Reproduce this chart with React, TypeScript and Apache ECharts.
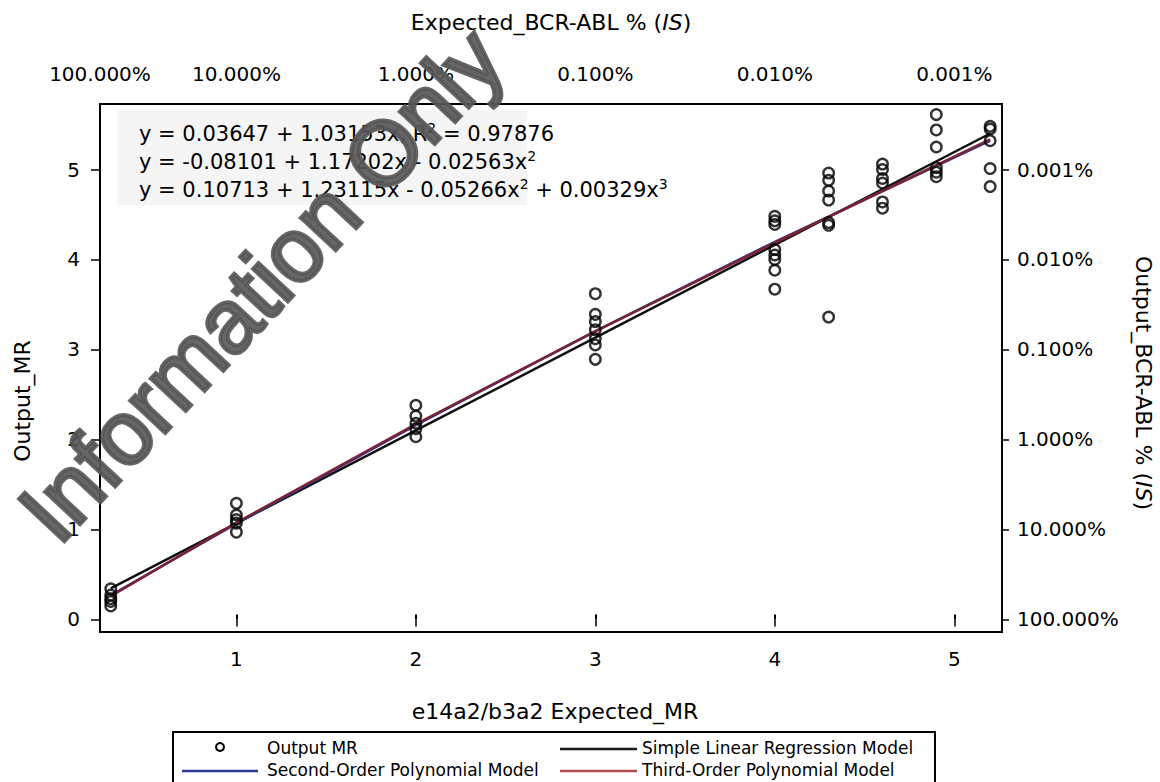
import { useEffect, useRef } from "react";
import * as echarts from "echarts";

const FONT = "DejaVu Sans";

// axis extents (Expected_MR / Output_MR units)
const X_MIN = 0.24;
const X_MAX = 5.266;
const Y_MIN = -0.14;
const Y_MAX = 5.728;

// tick values
const xTickValues = [1, 2, 3, 4, 5];
const topLabelValues = [X_MIN, 1, 2, 3, 4, 5];
const yTickValues = [0, 1, 2, 3, 4, 5];

// observed points: expected MR levels and output MR replicates
const expectedMR = [0.3, 1, 2, 3, 4, 4.3, 4.6, 4.9, 5.2];
const outputMR: number[][] = [
  [0.34, 0.27, 0.23, 0.2, 0.15],
  [1.29, 1.16, 1.11, 1.07, 0.97],
  [2.38, 2.26, 2.18, 2.12, 2.03],
  [3.62, 3.39, 3.31, 3.22, 3.12, 3.05, 2.89],
  [4.48, 4.43, 4.39, 4.11, 4.05, 4.0, 3.88, 3.67],
  [4.96, 4.88, 4.76, 4.66, 4.41, 4.38, 3.36],
  [5.06, 5.0, 4.9, 4.85, 4.64, 4.57],
  [5.61, 5.44, 5.25, 5.02, 4.97, 4.92],
  [5.48, 5.45, 5.32, 5.01, 4.81],
];

// fitted model lines, read at these x positions
const fitX = [0.3, 1, 2, 3, 4, 5.2];
const linearFit = [0.346, 1.068, 2.1, 3.131, 4.163, 5.4];
const quadFit = [0.268, 1.065, 2.16, 3.204, 4.197, 5.32];
const cubicFit = [0.258, 1.075, 2.171, 3.201, 4.186, 5.334];

const equations = [
  "y = 0.03647 + 1.03153x, R{s|2} = 0.97876",
  "y = -0.08101 + 1.17202x - 0.02563x{s|2}",
  "y = 0.10713 + 1.23115x - 0.05266x{s|2} + 0.00329x{s|3}",
];

const legendItems = [
  { name: "Output MR", kind: "circle", color: "#000" },
  { name: "Simple Linear Regression Model", kind: "line", color: "#1a1a1a" },
  { name: "Second-Order Polynomial Model", kind: "line", color: "#2b3990" },
  { name: "Third-Order Polynomial Model", kind: "line", color: "#b24a52" },
];

const pctLabel = (v: number) =>
  (100 / Math.pow(10, Math.round(v))).toFixed(3) + "%";

export default function App() {
  const ref = useRef<HTMLDivElement>(null);

  useEffect(() => {
    if (!ref.current) return;
    const chart = echarts.init(ref.current, undefined, { renderer: "svg" });

    const scatterData: number[][] = [];
    expectedMR.forEach((x, i) => {
      outputMR[i].forEach((y) => scatterData.push([x, y]));
    });
    const toLine = (ys: number[]) => fitX.map((x, i) => [x, ys[i]]);

    const labelBase = { color: "#000", fontFamily: FONT, fontSize: 20 };
    const tickStyle = { color: "#000", width: 1.5 };

    const theta = (47 * Math.PI) / 180;

    const legendRows = [
      { x: 0, y: 748 },
      { x: 1, y: 748 },
      { x: 0, y: 770 },
      { x: 1, y: 770 },
    ];
    const legendGraphics: any[] = [
      {
        type: "rect",
        shape: { x: 173, y: 732, width: 762, height: 70 },
        style: { fill: "none", stroke: "#000", lineWidth: 2 },
        z: 50,
      },
    ];
    legendItems.forEach((it, i) => {
      const r = legendRows[i];
      const lineX0 = r.x === 0 ? 182 : 560;
      const lineX1 = r.x === 0 ? 258 : 637;
      const textX = r.x === 0 ? 267 : 642;
      if (it.kind === "circle") {
        legendGraphics.push({
          type: "circle",
          shape: { cx: 220, cy: r.y - 1, r: 4 },
          style: { fill: "none", stroke: it.color, lineWidth: 2 },
          z: 50,
        });
      } else {
        legendGraphics.push({
          type: "line",
          shape: { x1: lineX0, y1: r.y + 1, x2: lineX1, y2: r.y + 1 },
          style: { stroke: it.color, lineWidth: 2.5 },
          z: 50,
        });
      }
      legendGraphics.push({
        type: "text",
        x: textX,
        y: r.y,
        style: {
          text: it.name,
          fill: "#000",
          fontFamily: FONT,
          fontSize: 17,
          textAlign: "left",
          textVerticalAlign: "middle",
        },
        z: 50,
      });
    });

    const option: any = {
      animation: false,
      backgroundColor: "#fff",
      grid: {
        left: 100,
        right: 158,
        top: 104,
        bottom: 150,
        show: true,
        borderColor: "#000",
        borderWidth: 2,
        backgroundColor: "transparent",
        containLabel: false,
        outerBoundsMode: "none",
      },
      xAxis: [
        {
          type: "value",
          position: "bottom",
          min: X_MIN,
          max: X_MAX,
          offset: 3,
          axisLine: { show: false },
          splitLine: { show: false },
          axisTick: {
            show: true,
            length: 7,
            customValues: xTickValues,
            lineStyle: tickStyle,
          },
          axisLabel: {
            ...labelBase,
            margin: 14,
            customValues: xTickValues,
            formatter: (v: number) => String(v),
          },
        },
        {
          type: "value",
          position: "top",
          min: X_MIN,
          max: X_MAX,
          offset: 4,
          axisLine: { show: false },
          splitLine: { show: false },
          axisTick: {
            show: true,
            length: 5,
            customValues: xTickValues,
            lineStyle: { color: "#000", width: 2 },
          },
          axisLabel: {
            ...labelBase,
            margin: 16,
            customValues: topLabelValues,
            formatter: (v: number) => pctLabel(v),
          },
        },
      ],
      yAxis: [
        {
          type: "value",
          position: "left",
          min: Y_MIN,
          max: Y_MAX,
          axisLine: { show: false },
          splitLine: { show: false },
          axisTick: {
            show: true,
            length: 9,
            customValues: yTickValues,
            lineStyle: tickStyle,
          },
          axisLabel: {
            ...labelBase,
            margin: 20,
            customValues: yTickValues,
            formatter: (v: number) => String(v),
          },
        },
        {
          type: "value",
          position: "right",
          min: Y_MIN,
          max: Y_MAX,
          axisLine: { show: false },
          splitLine: { show: false },
          axisTick: {
            show: true,
            length: 7,
            customValues: yTickValues,
            lineStyle: tickStyle,
          },
          axisLabel: {
            ...labelBase,
            margin: 15,
            customValues: yTickValues,
            formatter: (v: number) => pctLabel(v),
          },
        },
      ],
      series: [
        {
          name: "Simple Linear Regression Model",
          type: "line",
          data: toLine(linearFit),
          symbol: "none",
          lineStyle: { color: "#111", width: 2.5 },
          z: 3,
        },
        {
          name: "Second-Order Polynomial Model",
          type: "line",
          data: toLine(quadFit),
          symbol: "none",
          lineStyle: { color: "#2b3990", width: 2.5 },
          z: 3,
        },
        {
          name: "Third-Order Polynomial Model",
          type: "line",
          data: toLine(cubicFit),
          symbol: "none",
          lineStyle: { color: "#7d2236", width: 2.5 },
          z: 4,
        },
        {
          name: "Output MR",
          type: "scatter",
          data: scatterData,
          symbol: "circle",
          symbolSize: 10.5,
          itemStyle: {
            color: "rgba(0,0,0,0)",
            borderColor: "#000",
            borderWidth: 2.4,
          },
          z: 5,
        },
      ],
      graphic: [
        {
          type: "rect",
          shape: { x: 117, y: 110, width: 410, height: 95 },
          style: { fill: "#f5f5f5" },
          z: 1,
        },
        ...equations.map((t, i) => ({
          type: "text",
          x: 139,
          y: 134 + i * 28,
          style: {
            text: t,
            fill: "#000",
            fontFamily: FONT,
            fontSize: 21,
            lineHeight: 26,
            textAlign: "left",
            textVerticalAlign: "middle",
            rich: {
              s: {
                fontFamily: FONT,
                fontSize: 14,
                lineHeight: 14,
                verticalAlign: "top",
                fill: "#000",
              },
            },
          },
          z: 10,
        })),
        {
          type: "text",
          x: 551,
          y: 22,
          style: {
            text: "Expected_BCR-ABL % ({i|IS})",
            fill: "#000",
            fontFamily: FONT,
            fontSize: 22,
            textAlign: "center",
            textVerticalAlign: "middle",
            rich: {
              i: { fontFamily: FONT, fontSize: 22, fontStyle: "italic", fill: "#000" },
            },
          },
          z: 10,
        },
        {
          type: "text",
          x: 555,
          y: 711,
          style: {
            text: "e14a2/b3a2 Expected_MR",
            fill: "#000",
            fontFamily: FONT,
            fontSize: 22,
            textAlign: "center",
            textVerticalAlign: "middle",
          },
          z: 10,
        },
        {
          type: "text",
          x: 22,
          y: 401,
          rotation: Math.PI / 2,
          style: {
            text: "Output_MR",
            fill: "#000",
            fontFamily: FONT,
            fontSize: 22,
            textAlign: "center",
            textVerticalAlign: "middle",
          },
          z: 10,
        },
        {
          type: "text",
          x: 1143,
          y: 383,
          rotation: -Math.PI / 2,
          style: {
            text: "Output_BCR-ABL % ({i|IS})",
            fill: "#000",
            fontFamily: FONT,
            fontSize: 22,
            textAlign: "center",
            textVerticalAlign: "middle",
            rich: {
              i: { fontFamily: FONT, fontSize: 22, fontStyle: "italic", fill: "#000" },
            },
          },
          z: 10,
        },
        ...legendGraphics,
        {
          type: "text",
          x: 36,
          y: 526,
          rotation: theta,
          style: {
            text: "Information Only",
            fill: "rgba(85,85,85,0.9)",
            stroke: "rgba(85,85,85,0.9)",
            lineWidth: 4,
            fontFamily: "Liberation Sans",
            fontSize: 90,
            lineHeight: 80,
            textAlign: "left",
            textVerticalAlign: "middle",
          },
          z: 100,
        },
      ],
    };

    chart.setOption(option);
    return () => chart.dispose();
  }, []);

  return (
    <div
      ref={ref}
      style={{ position: "fixed", left: 0, top: 0, width: 1160, height: 782, background: "#fff" }}
    />
  );
}
